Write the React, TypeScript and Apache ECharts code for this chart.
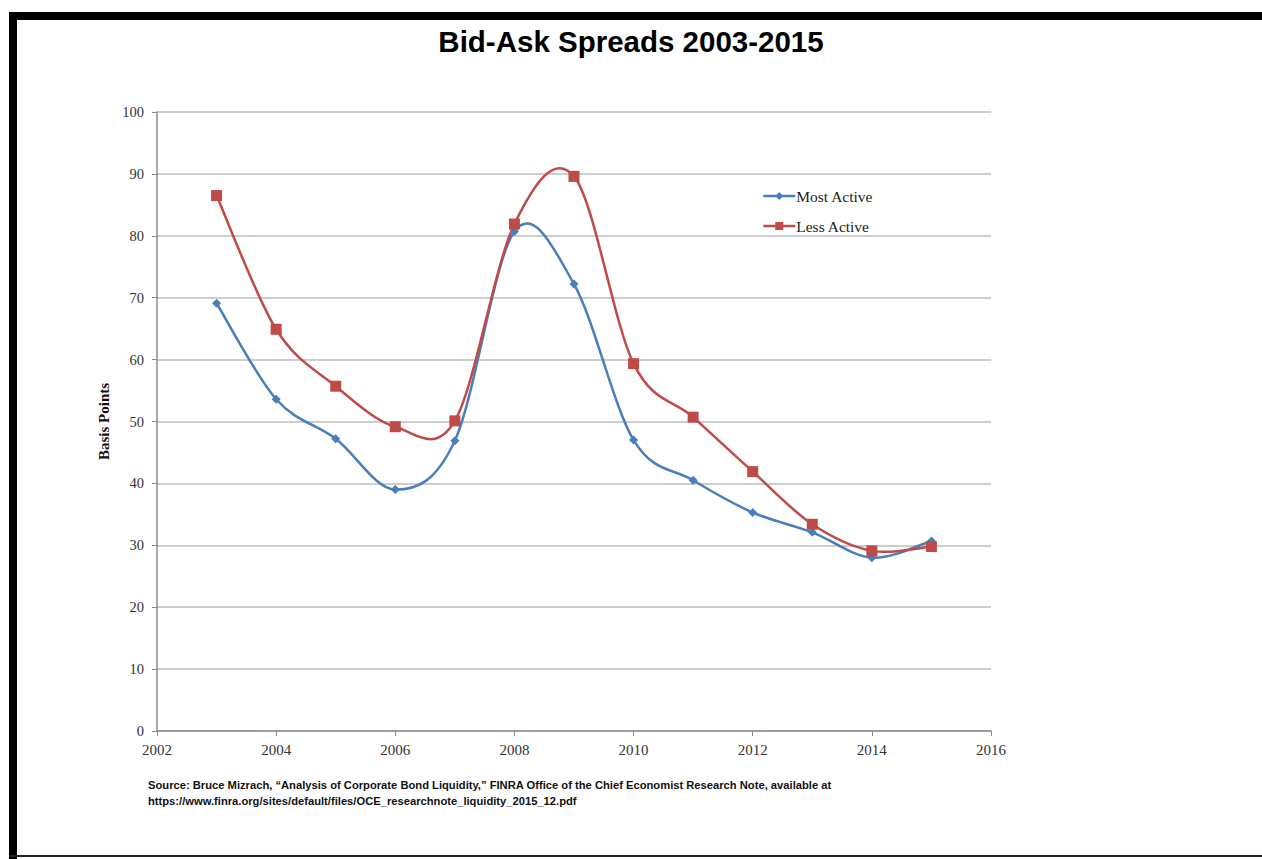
import React, { useEffect, useRef } from "react";
import * as echarts from "echarts";

const years = [2003, 2004, 2005, 2006, 2007, 2008, 2009, 2010, 2011, 2012, 2013, 2014, 2015];
const mostActive = [69.1, 53.6, 47.2, 39.0, 46.9, 80.7, 72.2, 47.0, 40.5, 35.3, 32.1, 28.0, 30.7];
const lessActive = [86.5, 64.9, 55.7, 49.15, 50.1, 81.9, 89.6, 59.35, 50.7, 41.9, 33.4, 29.1, 29.8];
const seriesNames = ["Most Active", "Less Active"];
const titleText = "Bid-Ask Spreads 2003-2015";
const yAxisName = "Basis Points";
const sourceLines = [
  "Source: Bruce Mizrach, \u201cAnalysis of Corporate Bond Liquidity,\u201d FINRA Office of the Chief Economist Research Note, available at",
  "https://www.finra.org/sites/default/files/OCE_researchnote_liquidity_2015_12.pdf",
];

const BLUE = "#4A7EBB";
const RED = "#BE4B48";
const SERIF = "'Liberation Serif', 'DejaVu Serif', serif";

// Excel-like smoothed curve (Catmull-Rom through the data points), drawn via the axes' scales
function curveSeries(vals: number[], color: string, z: number) {
  const n = years.length;
  return {
    type: "custom",
    silent: true,
    z,
    data: years.map((y, i) => [y, vals[i]]),
    encode: { x: 0, y: 1 },
    renderItem: (params: any, api: any) => {
      const i = params.dataIndex;
      if (i >= n - 1) return { type: "group", children: [] };
      const P = (k: number) => {
        const j = Math.max(0, Math.min(n - 1, k));
        return api.coord([years[j], vals[j]]);
      };
      const p0 = P(i - 1);
      const p1 = P(i);
      const p2 = P(i + 1);
      const p3 = P(i + 2);
      return {
        type: "bezierCurve",
        shape: {
          x1: p1[0],
          y1: p1[1],
          x2: p2[0],
          y2: p2[1],
          cpx1: p1[0] + (p2[0] - p0[0]) / 6,
          cpy1: p1[1] + (p2[1] - p0[1]) / 6,
          cpx2: p2[0] - (p3[0] - p1[0]) / 6,
          cpy2: p2[1] - (p3[1] - p1[1]) / 6,
        },
        style: { stroke: color, lineWidth: 2.5, fill: "none", lineCap: "round" },
      };
    },
  };
}

export default function App() {
  const ref = useRef<HTMLDivElement>(null);
  useEffect(() => {
    if (!ref.current) return;
    const chart = echarts.init(ref.current, undefined, { renderer: "svg" });
    const pts = (vals: number[]) => years.map((y, i) => [y, vals[i]]);
    chart.setOption({
      animation: false,
      backgroundColor: "#ffffff",
      title: {
        text: titleText,
        left: "center",
        top: 21,
        textStyle: {
          fontFamily: "'Liberation Sans', Arial, sans-serif",
          fontWeight: "bold",
          fontSize: 29.5,
          color: "#000",
        },
      },
      legend: {
        orient: "vertical",
        left: 757,
        top: 183,
        itemGap: 14,
        itemWidth: 32,
        itemHeight: 10,
        textStyle: { fontFamily: SERIF, fontSize: 15.5, color: "#222", padding: [0, 0, 0, -4] },
        data: [
          { name: seriesNames[0], lineStyle: { color: BLUE, width: 2.5, opacity: 1 } },
          { name: seriesNames[1], lineStyle: { color: RED, width: 2.5, opacity: 1 } },
        ],
      },
      grid: { left: 157, right: 271, top: 112, bottom: 128, containLabel: false },
      xAxis: {
        type: "value",
        min: 2002,
        max: 2016,
        interval: 2,
        splitLine: { show: false },
        axisLine: { lineStyle: { color: "#8c8c8c", width: 1.5 } },
        axisTick: { show: true, length: 5, lineStyle: { color: "#8c8c8c" } },
        axisLabel: {
          margin: 11,
          fontFamily: SERIF,
          fontSize: 15,
          color: "#333",
          formatter: (v: number) => String(v),
        },
      },
      yAxis: {
        type: "value",
        min: 0,
        max: 100,
        interval: 10,
        name: yAxisName,
        nameLocation: "middle",
        nameGap: 44,
        nameRotate: 90,
        nameTextStyle: { fontFamily: SERIF, fontSize: 15, fontWeight: "bold", color: "#111" },
        axisLine: { show: true, lineStyle: { color: "#8c8c8c", width: 1.5 } },
        axisTick: { show: true, length: 5, lineStyle: { color: "#8c8c8c" } },
        splitLine: { lineStyle: { color: "#bdbdbd", width: 1.5 } },
        axisLabel: { margin: 13, fontFamily: SERIF, fontSize: 14.5, color: "#333" },
      },
      series: [
        curveSeries(mostActive, BLUE, 2),
        curveSeries(lessActive, RED, 2),
        {
          name: seriesNames[0],
          type: "line",
          data: pts(mostActive),
          symbol: "diamond",
          symbolSize: 9,
          itemStyle: { color: BLUE },
          lineStyle: { color: BLUE, width: 0, opacity: 0 },
          z: 3,
        },
        {
          name: seriesNames[1],
          type: "line",
          data: pts(lessActive),
          symbol: "rect",
          symbolSize: 11,
          itemStyle: { color: RED },
          lineStyle: { color: RED, width: 0, opacity: 0 },
          z: 3,
        },
      ],
      graphic: [
        { type: "rect", shape: { x: 9, y: 12, width: 1253, height: 8 }, style: { fill: "#000" } },
        { type: "rect", shape: { x: 9, y: 12, width: 8, height: 847 }, style: { fill: "#000" } },
        { type: "rect", shape: { x: 9, y: 855, width: 1253, height: 2 }, style: { fill: "#222" } },
        {
          type: "text",
          left: 148,
          top: 777,
          style: {
            text: sourceLines.join("\n"),
            fontFamily: "'Liberation Sans', sans-serif",
            fontWeight: "bold",
            fontSize: 11.2,
            lineHeight: 16,
            fill: "#111",
          },
        },
      ],
    });
    return () => chart.dispose();
  }, []);
  return (
    <div style={{ position: "absolute", left: 0, top: 0, width: 1262, height: 859 }}>
      <div ref={ref} style={{ width: 1262, height: 859 }} />
    </div>
  );
}
